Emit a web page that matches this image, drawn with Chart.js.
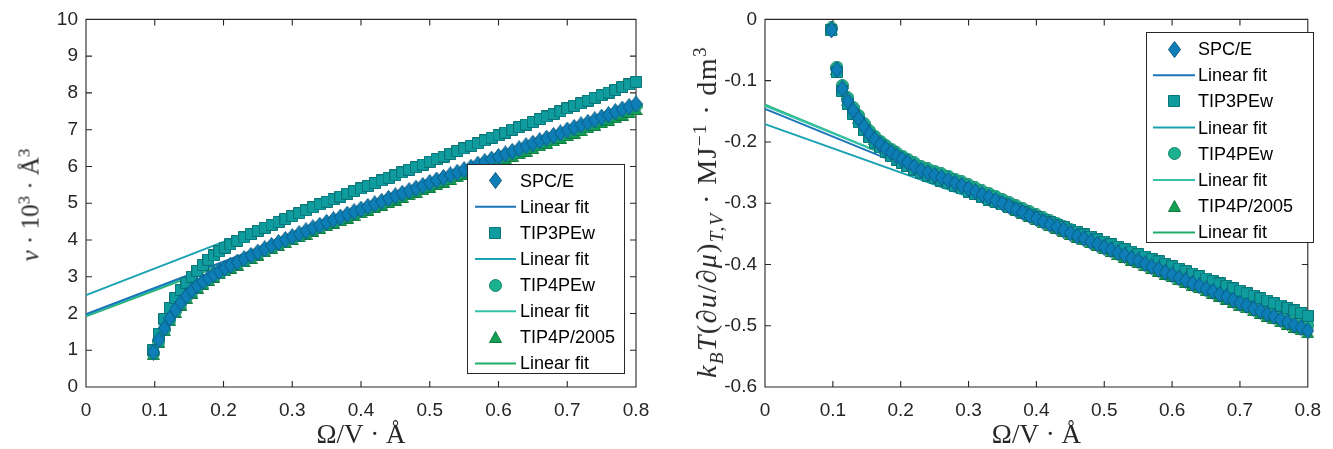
<!DOCTYPE html>
<html><head><meta charset="utf-8">
<script src="https://cdn.jsdelivr.net/npm/chart.js@4"></script>
<style>
html,body{margin:0;padding:0;background:#fff;width:1333px;height:449px;overflow:hidden;position:relative;}
canvas{position:absolute;top:0;}
#c1{left:0;}
#c2{left:666px;}
.ytitle{position:absolute;font-family:'Liberation Serif',serif;line-height:1;white-space:nowrap;color:#262626;transform:translate(-50%,-50%) rotate(-90deg);}
.ytitle sup,.ytitle sub{font-size:0.68em;line-height:0;}
#yt1{font-size:25px;}
#yt2{font-size:28px;letter-spacing:1.4px;}
</style></head>
<body>
<canvas id="c1" width="666" height="449" style="width:666px;height:449px"></canvas>
<canvas id="c2" width="667" height="449" style="width:667px;height:449px"></canvas>
<div class="ytitle" id="yt1" style="left:30px;top:205px;"><i>ν</i> · 10<sup>3</sup> · Å<sup>3</sup></div>
<div class="ytitle" id="yt2" style="left:707px;top:212px;"><i>k</i><sub><i>B</i></sub><i>T</i>(∂<i>u</i>/∂<i>μ</i>)<sub><i>T,V</i></sub> · MJ<sup>−1</sup> · dm<sup>3</sup></div>
<script>
// ---------- data ----------
const xVals = [0.098,0.106,0.114,0.122,0.13,0.138,0.146,0.154,0.162,0.17,0.178,0.186,0.194,0.202,0.21,
  0.22,0.23,0.24,0.25,0.26,0.27,0.28,0.29,0.3,
  0.31,0.32,0.33,0.34,0.35,0.36,0.37,0.38,0.39,0.4,
  0.41,0.42,0.43,0.44,0.45,0.46,0.47,0.48,0.49,0.5,
  0.51,0.52,0.53,0.54,0.55,0.56,0.57,0.58,0.59,0.6,
  0.61,0.62,0.63,0.64,0.65,0.66,0.67,0.68,0.69,0.7,
  0.71,0.72,0.73,0.74,0.75,0.76,0.77,0.78,0.79,0.8];

const seriesNames = ['SPC/E','TIP3PEw','TIP4PEw','TIP4P/2005'];
const fitLabel = 'Linear fit';

// left panel: nu * 10^3 * A^3
const leftSPCE = [0.95,1.28,1.60,1.87,2.10,2.30,2.48,2.63,2.76,2.87,2.97,3.06,3.15,3.23,3.31,
  3.40,3.49,3.58,3.67,3.76,3.85,3.93,4.01,4.09,
  4.17,4.25,4.33,4.40,4.48,4.55,4.62,4.70,4.77,4.84,
  4.91,4.98,5.05,5.13,5.20,5.27,5.34,5.41,5.48,5.56,
  5.63,5.70,5.77,5.84,5.91,5.98,6.06,6.13,6.20,6.27,
  6.34,6.41,6.48,6.56,6.63,6.70,6.77,6.84,6.91,6.99,
  7.06,7.13,7.20,7.27,7.34,7.41,7.49,7.56,7.63,7.70];
const leftTIP3PEw = [1.00,1.45,1.85,2.15,2.42,2.64,2.83,3.00,3.16,3.32,3.46,3.58,3.69,3.79,3.88,
  3.98,4.07,4.16,4.25,4.33,4.41,4.49,4.57,4.65,
  4.73,4.81,4.89,4.97,5.04,5.11,5.18,5.26,5.33,5.40,
  5.47,5.55,5.62,5.69,5.76,5.84,5.91,5.98,6.05,6.13,
  6.20,6.27,6.34,6.42,6.49,6.56,6.63,6.71,6.78,6.85,
  6.92,7.00,7.07,7.14,7.21,7.29,7.36,7.43,7.50,7.58,
  7.65,7.72,7.79,7.87,7.94,8.01,8.08,8.16,8.23,8.30];
const leftTIP4PEw = [0.91,1.24,1.56,1.83,2.06,2.26,2.44,2.59,2.72,2.83,2.93,3.02,3.11,3.19,3.27,
  3.36,3.45,3.54,3.63,3.72,3.81,3.89,3.97,4.05,
  4.13,4.21,4.29,4.36,4.44,4.51,4.58,4.66,4.73,4.80,
  4.87,4.94,5.01,5.09,5.16,5.23,5.30,5.37,5.44,5.51,
  5.58,5.65,5.72,5.79,5.86,5.93,6.01,6.08,6.15,6.22,
  6.29,6.36,6.43,6.51,6.58,6.65,6.72,6.79,6.86,6.94,
  7.01,7.08,7.15,7.22,7.29,7.36,7.44,7.51,7.58,7.65];
const leftTIP4P2005 = [0.89,1.22,1.54,1.81,2.04,2.24,2.42,2.57,2.70,2.81,2.91,3.00,3.09,3.17,3.25,
  3.33,3.42,3.51,3.60,3.69,3.78,3.86,3.94,4.02,
  4.10,4.17,4.25,4.32,4.40,4.47,4.54,4.61,4.68,4.75,
  4.82,4.89,4.96,5.03,5.10,5.17,5.24,5.31,5.38,5.45,
  5.52,5.59,5.66,5.73,5.80,5.87,5.94,6.01,6.08,6.15,
  6.22,6.29,6.36,6.43,6.50,6.57,6.64,6.71,6.78,6.85,
  6.92,6.99,7.06,7.13,7.20,7.27,7.34,7.41,7.48,7.56];

// linear fits, evaluated at fitX
const fitX = [0, 0.8];
const leftFitSPCE = [1.98, 7.70];
const leftFitTIP3PEw = [2.50, 8.30];
const leftFitTIP4PEw = [1.95, 7.65];
const leftFitTIP4P2005 = [1.92, 7.56];

// right panel: kB T (du/dmu)_{T,V}
const rightSPCE = [-0.017,-0.082,-0.113,-0.133,-0.149,-0.162,-0.175,-0.187,-0.196,-0.204,-0.211,-0.217,-0.223,-0.228,-0.233,
  -0.240,-0.246,-0.250,-0.254,-0.258,-0.262,-0.267,-0.271,-0.276,
  -0.281,-0.286,-0.290,-0.295,-0.300,-0.305,-0.310,-0.315,-0.320,-0.325,
  -0.330,-0.335,-0.339,-0.344,-0.349,-0.354,-0.358,-0.363,-0.367,-0.372,
  -0.376,-0.381,-0.385,-0.390,-0.394,-0.399,-0.404,-0.408,-0.413,-0.417,
  -0.422,-0.426,-0.431,-0.435,-0.440,-0.444,-0.449,-0.453,-0.458,-0.463,
  -0.467,-0.472,-0.476,-0.481,-0.485,-0.490,-0.494,-0.499,-0.503,-0.508];
const rightTIP3PEw = [-0.018,-0.086,-0.117,-0.138,-0.154,-0.168,-0.181,-0.192,-0.201,-0.209,-0.216,-0.223,-0.229,-0.234,-0.239,
  -0.245,-0.250,-0.255,-0.259,-0.263,-0.267,-0.272,-0.276,-0.281,
  -0.285,-0.290,-0.294,-0.298,-0.302,-0.306,-0.310,-0.315,-0.319,-0.323,
  -0.327,-0.331,-0.335,-0.339,-0.343,-0.347,-0.351,-0.355,-0.359,-0.363,
  -0.367,-0.371,-0.375,-0.379,-0.383,-0.387,-0.391,-0.395,-0.399,-0.403,
  -0.407,-0.411,-0.415,-0.419,-0.423,-0.427,-0.431,-0.435,-0.439,-0.443,
  -0.447,-0.451,-0.455,-0.459,-0.463,-0.467,-0.471,-0.475,-0.479,-0.484];
const rightTIP4PEw = [-0.014,-0.078,-0.108,-0.128,-0.144,-0.157,-0.170,-0.182,-0.191,-0.199,-0.206,-0.212,-0.218,-0.223,-0.228,
  -0.234,-0.240,-0.244,-0.248,-0.252,-0.256,-0.261,-0.265,-0.270,
  -0.275,-0.280,-0.284,-0.289,-0.294,-0.299,-0.304,-0.309,-0.314,-0.319,
  -0.324,-0.329,-0.333,-0.338,-0.343,-0.348,-0.352,-0.357,-0.361,-0.366,
  -0.370,-0.375,-0.379,-0.384,-0.388,-0.393,-0.397,-0.401,-0.406,-0.410,
  -0.415,-0.419,-0.424,-0.428,-0.432,-0.437,-0.441,-0.446,-0.450,-0.455,
  -0.459,-0.463,-0.468,-0.472,-0.477,-0.481,-0.485,-0.490,-0.494,-0.499];
const rightTIP4P2005 = [-0.016,-0.081,-0.112,-0.132,-0.148,-0.161,-0.174,-0.186,-0.195,-0.203,-0.210,-0.216,-0.222,-0.227,-0.232,
  -0.239,-0.245,-0.249,-0.253,-0.257,-0.262,-0.267,-0.271,-0.276,
  -0.281,-0.286,-0.291,-0.296,-0.301,-0.306,-0.311,-0.316,-0.321,-0.326,
  -0.331,-0.336,-0.340,-0.345,-0.350,-0.355,-0.359,-0.364,-0.368,-0.373,
  -0.378,-0.383,-0.387,-0.392,-0.396,-0.401,-0.406,-0.410,-0.415,-0.419,
  -0.424,-0.428,-0.433,-0.437,-0.442,-0.446,-0.451,-0.456,-0.461,-0.466,
  -0.470,-0.475,-0.479,-0.484,-0.488,-0.493,-0.497,-0.502,-0.506,-0.511];
const rightFitSPCE = [-0.146, -0.508];
const rightFitTIP3PEw = [-0.171, -0.487];
const rightFitTIP4PEw = [-0.141, -0.500];
const rightFitTIP4P2005 = [-0.139, -0.508];

// ticks
const xTickVals = [0,0.1,0.2,0.3,0.4,0.5,0.6,0.7,0.8];
const xTickLabels = ['0','0.1','0.2','0.3','0.4','0.5','0.6','0.7','0.8'];
const leftYTickVals = [0,1,2,3,4,5,6,7,8,9,10];
const leftYTickLabels = ['0','1','2','3','4','5','6','7','8','9','10'];
const rightYTickVals = [0,-0.1,-0.2,-0.3,-0.4,-0.5,-0.6];
const rightYTickLabels = ['0','-0.1','-0.2','-0.3','-0.4','-0.5','-0.6'];
const xTitle = 'Ω/V · Å';

// ---------- styles ----------
const markerStyles = [
  {kind:'diamond', fill:'#0e7fb6', edge:'#0a5a84', line:'#1a75b9'},
  {kind:'square',  fill:'#0f9c9e', edge:'#0a7476', line:'#1aa2b2'},
  {kind:'circle',  fill:'#1bb08e', edge:'#118769', line:'#35c2a6'},
  {kind:'triangle',fill:'#16a055', edge:'#0e7a3e', line:'#1fad68'}
];
function makeMarker(kind, fill, edge){
  const c = document.createElement('canvas');
  let w=12,h=12;
  if(kind==='diamond'){w=13;h=17;} else if(kind==='square'){w=12;h=12;} else if(kind==='circle'){w=13;h=13;} else {w=13;h=12;}
  c.width=w; c.height=h;
  const g=c.getContext('2d');
  g.beginPath();
  if(kind==='diamond'){g.moveTo(w/2,0.5);g.lineTo(w-0.5,h/2);g.lineTo(w/2,h-0.5);g.lineTo(0.5,h/2);g.closePath();}
  else if(kind==='square'){g.rect(0.5,0.5,w-1,h-1);}
  else if(kind==='circle'){g.arc(w/2,h/2,w/2-0.5,0,Math.PI*2);}
  else {g.moveTo(w/2,0.5);g.lineTo(w-0.5,h-0.5);g.lineTo(0.5,h-0.5);g.closePath();}
  g.fillStyle=fill; g.fill();
  g.strokeStyle=edge; g.lineWidth=1; g.stroke();
  return c;
}
const markerImgs = markerStyles.map(s=>makeMarker(s.kind,s.fill,s.edge));

function buildDatasets(series, fits){
  const ds=[];
  series.forEach((arr,i)=>{
    ds.push({label:seriesNames[i], data:xVals.map((x,k)=>({x:x,y:arr[k]})),
      pointStyle:markerImgs[i], pointRadius:6, pointHoverRadius:6, showLine:false,
      backgroundColor:markerStyles[i].fill, borderColor:markerStyles[i].edge, order:i, clip:false});
    ds.push({label:fitLabel, data:fitX.map((x,k)=>({x:x,y:fits[i][k]})),
      showLine:true, pointRadius:0, borderColor:markerStyles[i].line, borderWidth:2,
      backgroundColor:markerStyles[i].line, order:10+i, clip:false, isFit:true});
  });
  return ds;
}

// frame + inward ticks
const framePlugin = {
  id:'frame',
  beforeDatasetsDraw(chart){
    const {ctx, chartArea:a, scales} = chart;
    const L=a.left, R=a.right, T=a.top, B=a.bottom, tl=6;
    ctx.save();
    ctx.strokeStyle='#262626'; ctx.lineWidth=1.1;
    ctx.beginPath();
    ctx.rect(L,T,R-L,B-T);
    scales.x.ticks.forEach(t=>{const p=scales.x.getPixelForValue(t.value);
      ctx.moveTo(p,B);ctx.lineTo(p,B-tl);ctx.moveTo(p,T);ctx.lineTo(p,T+tl);});
    scales.y.ticks.forEach(t=>{const p=scales.y.getPixelForValue(t.value);
      ctx.moveTo(L,p);ctx.lineTo(L+tl,p);ctx.moveTo(R,p);ctx.lineTo(R-tl,p);});
    ctx.stroke();
    ctx.restore();
  }
};
// boxed legend inside plot
const boxLegend = {
  id:'boxLegend',
  afterDraw(chart, args, o){
    const ctx=chart.ctx;
    ctx.save();
    ctx.fillStyle='#fff'; ctx.fillRect(o.x,o.y,o.w,o.h);
    ctx.strokeStyle='#262626'; ctx.lineWidth=1; ctx.strokeRect(o.x+0.5,o.y+0.5,o.w,o.h);
    ctx.font='18px "Liberation Sans", Arial, sans-serif';
    ctx.textBaseline='middle'; ctx.textAlign='left';
    chart.data.datasets.forEach((ds,i)=>{
      const cy=o.y+o.first+i*o.rowH;
      if(ds.isFit){
        ctx.strokeStyle=ds.borderColor; ctx.lineWidth=2;
        ctx.beginPath(); ctx.moveTo(o.x+o.l0,cy); ctx.lineTo(o.x+o.l1,cy); ctx.stroke();
      } else {
        const im=ds.pointStyle;
        ctx.drawImage(im, Math.round(o.x+o.sym-im.width/2), Math.round(cy-im.height/2));
      }
      ctx.fillStyle='#000';
      ctx.fillText(ds.label, o.x+o.tx, cy+1);
    });
    ctx.restore();
  }
};

function makeChart(id, datasets, yMin, yMax, yTickVals, yTickLabels, yWidth, padRight, legendOpts){
  return new Chart(document.getElementById(id), {
    type:'scatter',
    data:{datasets:datasets},
    options:{
      responsive:false, animation:false, devicePixelRatio:1,
      layout:{padding:{left:0,top:19,right:padRight,bottom:0}},
      plugins:{legend:{display:false}, tooltip:{enabled:false}, boxLegend:legendOpts},
      scales:{
        x:{type:'linear', min:0, max:0.8,
          afterBuildTicks:s=>{s.ticks=xTickVals.map(v=>({value:v}));},
          afterFit:s=>{s.height=62;},
          grid:{display:false, drawTicks:false, tickLength:0}, border:{display:false},
          ticks:{font:{family:'Liberation Sans', size:19}, color:'#262626', padding:12, maxRotation:0, autoSkip:false,
            callback:(v)=>{const k=xTickVals.indexOf(v); return k>=0?xTickLabels[k]:'';}},
          title:{display:true, text:xTitle, color:'#262626', font:{family:'Liberation Serif', size:27, lineHeight:0.8}, padding:{top:0,bottom:2}}
        },
        y:{type:'linear', min:yMin, max:yMax,
          afterBuildTicks:s=>{s.ticks=yTickVals.map(v=>({value:v}));},
          afterFit:s=>{s.width=yWidth;},
          grid:{display:false, drawTicks:false, tickLength:0}, border:{display:false},
          ticks:{font:{family:'Liberation Sans', size:19}, color:'#262626', padding:8, autoSkip:false,
            callback:(v)=>{const k=yTickVals.indexOf(v); return k>=0?yTickLabels[k]:'';}}
        }
      }
    },
    plugins:[framePlugin, boxLegend]
  });
}

makeChart('c1', buildDatasets([leftSPCE,leftTIP3PEw,leftTIP4PEw,leftTIP4P2005],
  [leftFitSPCE,leftFitTIP3PEw,leftFitTIP4PEw,leftFitTIP4P2005]),
  0, 10, leftYTickVals, leftYTickLabels, 86, 30,
  {x:467,y:164,w:157,h:209,first:16.7,rowH:26.1,l0:8,l1:49,sym:28,tx:53});
makeChart('c2', buildDatasets([rightSPCE,rightTIP3PEw,rightTIP4PEw,rightTIP4P2005],
  [rightFitSPCE,rightFitTIP3PEw,rightFitTIP4PEw,rightFitTIP4P2005]),
  -0.6, 0, rightYTickVals, rightYTickLabels, 99, 18,
  {x:480,y:32,w:167,h:210,first:17,rowH:26.2,l0:7,l1:49,sym:28,tx:52});
</script>
</body></html>
